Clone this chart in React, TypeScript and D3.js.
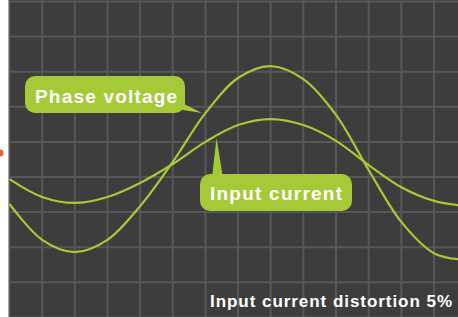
import React from "react";
import * as d3 from "d3";

const W = 458;
const H = 317;

// time in grid divisions
const timeSteps = [0, 1, 2, 3, 4, 5, 6, 7, 8, 9, 10, 11, 12, 13, 13.74];
// phase voltage (grid units, 0 = centre line)
const phaseVoltage = [-1.27, -2.29, -2.64, -2.29, -1.33, -0.07, 1.32, 2.32, 2.66, 2.29, 1.27, -0.3, -1.78, -2.67, -2.84];
// input current (grid units)
const inputCurrent = [-0.56, -1.07, -1.24, -1.07, -0.67, -0.13, 0.5, 0.98, 1.15, 0.98, 0.53, -0.16, -0.79, -1.18, -1.3];

const labelVoltage = "Phase voltage";
const labelCurrent = "Input current";
const footnote = "Input current distortion 5%";

const GREEN = "#a6c938";

export default function App() {
  const x = d3.scaleLinear().domain([0, 14]).range([9.5, 9.5 + 32.65 * 14]);
  const y = d3.scaleLinear().domain([4.5, -4.5]).range([1.5, 1.5 + 35.1 * 9]);

  const line = d3
    .line<number>()
    .x((_, i) => x(timeSteps[i]))
    .y((d) => y(d))
    .curve(d3.curveCatmullRom.alpha(0.5));

  const vTicks = d3.range(0, 15);
  const hTicks = d3.range(4.5, -4.6, -1);

  const font = "'Liberation Sans', Arial, Helvetica, sans-serif";

  return (
    <svg width={W} height={H} style={{ position: "absolute", left: 0, top: 0 }}>
      <rect x={0} y={0} width={W} height={H} fill="#ffffff" />
      <rect x={9} y={0} width={W - 9} height={H} fill="#3d3d3d" />
      <g stroke="#575757" strokeWidth={2}>
        {vTicks.map((t) => (
          <line key={"v" + t} x1={x(t)} x2={x(t)} y1={0} y2={H} />
        ))}
        {hTicks.map((t) => (
          <line key={"h" + t} x1={9} x2={W} y1={y(t)} y2={y(t)} />
        ))}
      </g>
      <circle cx={0} cy={153} r={3.5} fill="#e0652a" />

      <path d={line(phaseVoltage) || ""} fill="none" stroke={GREEN} strokeWidth={2.2} />
      <path d={line(inputCurrent) || ""} fill="none" stroke={GREEN} strokeWidth={2.2} />

      {/* Phase voltage callout */}
      <g>
        <polygon points="176,100 202,113 170,108" fill={GREEN} />
        <rect x={25} y={76} width={160} height={37} rx={10} fill={GREEN} />
        <text
          x={35}
          y={103}
          fill="#ffffff"
          fontFamily={font}
          fontWeight="bold"
          fontSize={19}
          textLength={142}
          lengthAdjust="spacing"
        >
          {labelVoltage}
        </text>
      </g>

      {/* Input current callout */}
      <g>
        <polygon points="212,178 216.5,138 223,178" fill={GREEN} />
        <rect x={200} y={174} width={152} height={37} rx={10} fill={GREEN} />
        <text
          x={210}
          y={200}
          fill="#ffffff"
          fontFamily={font}
          fontWeight="bold"
          fontSize={19}
          textLength={132}
          lengthAdjust="spacing"
        >
          {labelCurrent}
        </text>
      </g>

      <text
        x={210}
        y={307}
        fill="#ffffff"
        fontFamily={font}
        fontWeight="bold"
        fontSize={17}
        textLength={242}
        lengthAdjust="spacing"
      >
        {footnote}
      </text>
    </svg>
  );
}
